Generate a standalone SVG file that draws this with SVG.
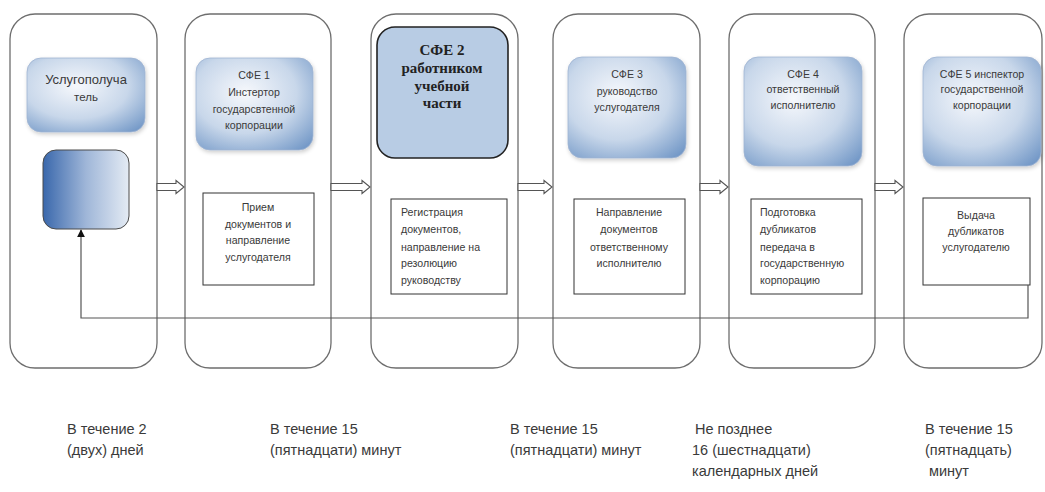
<svg xmlns="http://www.w3.org/2000/svg" width="1045" height="492" viewBox="0 0 1045 492">
<defs>
<radialGradient id="gBlue" cx="0.42" cy="0.38" r="0.8">
<stop offset="0" stop-color="#f6f8fc"/>
<stop offset="0.55" stop-color="#c8d7ea"/>
<stop offset="1" stop-color="#7096c6"/>
</radialGradient>
<linearGradient id="gDark" x1="0" y1="0" x2="1" y2="0">
<stop offset="0" stop-color="#3a68ac"/>
<stop offset="0.5" stop-color="#9fb6d8"/>
<stop offset="1" stop-color="#e4ebf4"/>
</linearGradient>
<filter id="sh" x="-10%" y="-10%" width="130%" height="130%">
<feGaussianBlur in="SourceAlpha" stdDeviation="2"/>
<feOffset dx="1" dy="2"/>
<feComponentTransfer><feFuncA type="linear" slope="0.2"/></feComponentTransfer>
<feMerge><feMergeNode/><feMergeNode in="SourceGraphic"/></feMerge>
</filter>
<marker id="ah" viewBox="0 0 10 10" refX="9" refY="5" markerWidth="8" markerHeight="8" markerUnits="userSpaceOnUse" orient="auto">
<path d="M0,0 L10,5 L0,10 Z" fill="#111"/>
</marker>
</defs>
<style>
.lane{fill:#fff;stroke:#6e6e6e;stroke-width:1.3}
.blue{fill:url(#gBlue);stroke:#9fb4d2;stroke-width:0.8;filter:url(#sh)}
.wbox{fill:#fff;stroke:#333;stroke-width:1}
.t{font-family:"Liberation Sans",Arial,sans-serif;font-size:10.6px;fill:#3a3a3a}
.c{text-anchor:middle}
.b{font-family:"Liberation Sans",Arial,sans-serif;font-size:14.5px;fill:#3a3a3a}
.s{font-family:"Liberation Serif","Times New Roman",serif;font-size:15px;font-weight:bold;fill:#222;text-anchor:middle}
.conn{fill:none;stroke:#555;stroke-width:1.2}
.barr{fill:#fff;stroke:#555;stroke-width:1.1}
</style>

<g id="lane1">
<rect class="lane" x="10" y="14" width="147" height="354" rx="25"/>
<rect class="blue" x="27" y="58" width="118" height="74" rx="14"/>
<text class="t c" x="86" y="84" style="font-size:13px">Услугополуча</text>
<text class="t c" x="86" y="101" style="font-size:11.5px">тель</text>
<rect x="43" y="150" width="86" height="79" rx="13" fill="url(#gDark)" stroke="#4a4a4a" stroke-width="1"/>
</g>

<g id="lane2">
<rect class="lane" x="185" y="14" width="146" height="354" rx="25"/>
<rect class="blue" x="196" y="58" width="117" height="92" rx="14"/>
<text class="t c" x="254" y="79">СФЕ 1</text>
<text class="t c" x="254" y="96">Инстертор</text>
<text class="t c" x="254" y="113">государсвтенной</text>
<text class="t c" x="254" y="129">корпорации</text>
<rect class="wbox" x="203" y="193" width="111" height="92"/>
<text class="t c" x="258" y="211">Прием</text>
<text class="t c" x="258" y="228">документов и</text>
<text class="t c" x="258" y="244">направление</text>
<text class="t c" x="258" y="261">услугодателя</text>
</g>

<g id="lane3">
<rect class="lane" x="371" y="14" width="147" height="354" rx="25"/>
<rect x="377" y="27" width="131" height="131" rx="18" fill="#b8cce4" stroke="#222" stroke-width="1.6"/>
<text class="s" x="442" y="55">СФЕ 2</text>
<text class="s" x="442" y="73">работником</text>
<text class="s" x="442" y="91">учебной</text>
<text class="s" x="442" y="108">части</text>
<rect class="wbox" x="391" y="199" width="116" height="95"/>
<text class="t" x="401" y="216">Регистрация</text>
<text class="t" x="401" y="233">документов,</text>
<text class="t" x="401" y="251">направление на</text>
<text class="t" x="401" y="267">резолюцию</text>
<text class="t" x="401" y="284">руководству</text>
</g>

<g id="lane4">
<rect class="lane" x="553" y="14" width="147" height="354" rx="25"/>
<rect class="blue" x="568" y="57" width="118" height="101" rx="14"/>
<text class="t c" x="627" y="78">СФЕ 3</text>
<text class="t c" x="627" y="95">руководство</text>
<text class="t c" x="627" y="111">услугодателя</text>
<rect class="wbox" x="574" y="199" width="111" height="95"/>
<text class="t c" x="629" y="216">Направление</text>
<text class="t c" x="629" y="233">документов</text>
<text class="t c" x="629" y="251">ответственному</text>
<text class="t c" x="629" y="267">исполнителю</text>
</g>

<g id="lane5">
<rect class="lane" x="729" y="14" width="146" height="354" rx="25"/>
<rect class="blue" x="744" y="57" width="118" height="109" rx="14"/>
<text class="t c" x="803" y="78">СФЕ 4</text>
<text class="t c" x="803" y="93">ответственный</text>
<text class="t c" x="803" y="109">исполнителю</text>
<rect class="wbox" x="751" y="199" width="111" height="95"/>
<text class="t" x="760" y="216">Подготовка</text>
<text class="t" x="760" y="233">дубликатов</text>
<text class="t" x="760" y="251">передача в</text>
<text class="t" x="760" y="267">государственную</text>
<text class="t" x="760" y="284">корпорацию</text>
</g>

<g id="lane6">
<rect class="lane" x="904" y="14" width="138" height="354" rx="25"/>
<rect class="blue" x="923" y="57" width="118" height="109" rx="14"/>
<text class="t c" x="982" y="78">СФЕ 5 инспектор</text>
<text class="t c" x="982" y="93">государственной</text>
<text class="t c" x="982" y="109">корпорации</text>
<rect class="wbox" x="923" y="198" width="107" height="87"/>
<text class="t c" x="976" y="219">Выдача</text>
<text class="t c" x="976" y="235">дубликатов</text>
<text class="t c" x="976" y="251">услугодателю</text>
</g>

<g id="connectors">
<path class="barr" d="M157,183.5 L176,183.5 L176,180.5 L184,187 L176,193.5 L176,190.5 L157,190.5 Z"/>
<path class="barr" d="M331,183.5 L362,183.5 L362,180.5 L370,187 L362,193.5 L362,190.5 L331,190.5 Z"/>
<path class="barr" d="M518,183.5 L544,183.5 L544,180.5 L552,187 L544,193.5 L544,190.5 L518,190.5 Z"/>
<path class="barr" d="M700,183.5 L720,183.5 L720,180.5 L728,187 L720,193.5 L720,190.5 L700,190.5 Z"/>
<path class="barr" d="M875,183.5 L895,183.5 L895,180.5 L903,187 L895,193.5 L895,190.5 L875,190.5 Z"/>
<path class="conn" d="M1028,285 L1028,318 L81,318 L81,230" marker-end="url(#ah)"/>
</g>

<g id="labels">
<text class="b" x="67" y="434">В течение 2</text>
<text class="b" x="67" y="455">(двух) дней</text>
<text class="b" x="270" y="434">В течение 15</text>
<text class="b" x="270" y="455">(пятнадцати) минут</text>
<text class="b" x="510" y="434">В течение 15</text>
<text class="b" x="510" y="455">(пятнадцати) минут</text>
<text class="b" x="695" y="434">Не позднее</text>
<text class="b" x="692" y="455">16 (шестнадцати)</text>
<text class="b" x="692" y="476">календарных дней</text>
<text class="b" x="925" y="434">В течение 15</text>
<text class="b" x="925" y="455">(пятнадцать)</text>
<text class="b" x="929" y="476">минут</text>
</g>
</svg>
